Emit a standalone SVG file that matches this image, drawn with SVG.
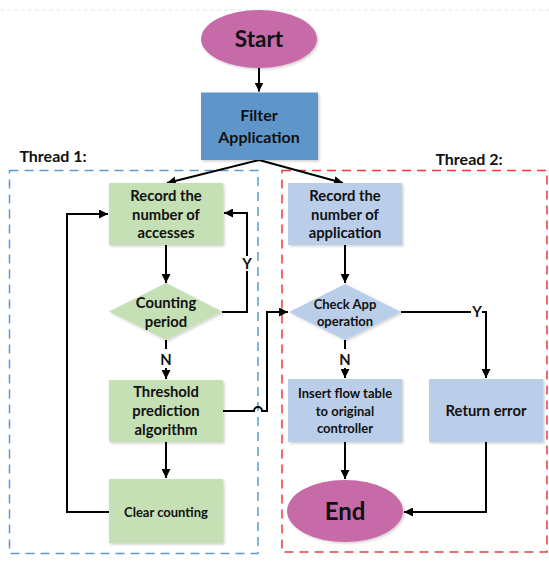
<svg xmlns="http://www.w3.org/2000/svg" width="549" height="561" viewBox="0 0 549 561">
<defs>
<marker id="ah" viewBox="0 0 10 10" refX="10" refY="5" markerWidth="9" markerHeight="9" markerUnits="userSpaceOnUse" orient="auto">
<path d="M0,0 L10,5 L0,10 z" fill="#000"/>
</marker>
<filter id="sh" x="-10%" y="-10%" width="130%" height="130%">
<feDropShadow dx="1.5" dy="1.5" stdDeviation="1" flood-color="#000" flood-opacity="0.18"/>
</filter>
</defs>
<style>
text{font-family:Lato,"Open Sans","Liberation Sans",sans-serif;font-weight:bold;fill:#111;text-anchor:middle}
.t14{font-size:14.8px}
.t12{font-size:13px}
.term{fill:#C66BA8;filter:url(#sh)}
.green{fill:#C6E0B5;filter:url(#sh)}
.blue{fill:#BBCEE9;filter:url(#sh)}
.filt{fill:#5E96CA;filter:url(#sh)}
.conn{fill:none;stroke:#000;stroke-width:2}
.arr{marker-end:url(#ah)}
</style>
<rect width="549" height="561" fill="#fff"/>
<line x1="0" y1="10" x2="549" y2="10" stroke="#e6e6e6" stroke-width="1" stroke-dasharray="4,3"/>
<g id="thread1">
<rect x="9.5" y="170.5" width="248.5" height="383" fill="none" stroke="#5B9BD5" stroke-width="1.5" stroke-dasharray="9,6"/>
<text x="53" y="161.5" style="font-size:16px">Thread 1:</text>
</g>
<g id="thread2">
<rect x="282" y="170.5" width="265" height="381.5" fill="none" stroke="#EE3A3A" stroke-width="1.5" stroke-dasharray="9,6"/>
<text x="469" y="164.5" style="font-size:16px">Thread 2:</text>
</g>
<g id="connectors">
<path class="conn arr" d="M259,68 V91.5"/>
<path class="conn arr" d="M259,160 L167,183"/>
<path class="conn arr" d="M259,160 L343,183"/>
<path class="conn arr" d="M166,245 V283"/>
<path class="conn" d="M222,312 H247 V271"/>
<path class="conn arr" d="M247,256 V213 H224"/>
<path class="conn" d="M166,340 V349"/>
<path class="conn arr" d="M166,368 V379"/>
<path class="conn arr" d="M166,442 V478"/>
<path class="conn arr" d="M109,512 H67 V214 H108"/>
<path class="conn arr" d="M223,411 H254 a4,4 0 0 1 8,0 H267 V312 H288"/>
<path class="conn arr" d="M345,245 V283"/>
<path class="conn" d="M401,312 H471"/>
<path class="conn arr" d="M482,312 H486 V378"/>
<path class="conn" d="M345,340 V349"/>
<path class="conn arr" d="M345,368 V378"/>
<path class="conn arr" d="M345,442 V479"/>
<path class="conn arr" d="M486,442 V512 H404"/>
<text x="247" y="269" class="t14">Y</text>
<text x="166" y="365" class="t14">N</text>
<text x="477" y="317" class="t14">Y</text>
<text x="345" y="365" class="t14">N</text>
</g>
<g id="start">
<ellipse cx="259" cy="39" rx="58" ry="29" class="term"/>
<text x="259" y="47" style="font-size:22.5px">Start</text>
</g>
<g id="filter">
<rect x="201" y="92.5" width="117" height="67.5" class="filt"/>
<text x="259" y="121" style="font-size:16px">Filter</text>
<text x="259" y="142.5" style="font-size:16px">Application</text>
</g>
<g id="record_accesses">
<rect x="109" y="183" width="114" height="62" class="green"/>
<text x="166" y="201" class="t14">Record the</text>
<text x="166" y="220" class="t14">number of</text>
<text x="166" y="238" class="t14">accesses</text>
</g>
<g id="counting_period">
<polygon points="166,283 222,311.5 166,340 109,311.5" class="green"/>
<text x="166" y="308" class="t14">Counting</text>
<text x="166" y="327" class="t14">period</text>
</g>
<g id="threshold">
<rect x="109" y="380" width="114" height="62" class="green"/>
<text x="166" y="397" class="t14">Threshold</text>
<text x="166" y="416" class="t14">prediction</text>
<text x="166" y="435" class="t14">algorithm</text>
</g>
<g id="clear">
<rect x="109" y="479" width="114" height="64" class="green"/>
<text x="166" y="516.5" class="t12">Clear counting</text>
</g>
<g id="record_app">
<rect x="288" y="183" width="114" height="62" class="blue"/>
<text x="345" y="201" class="t14">Record the</text>
<text x="345" y="220" class="t14">number of</text>
<text x="345" y="238" class="t14">application</text>
</g>
<g id="check_app">
<polygon points="345,284 401,312 345,340 289,312" class="blue"/>
<text x="345" y="308.5" class="t12">Check App</text>
<text x="345" y="325.5" class="t12">operation</text>
</g>
<g id="insert">
<rect x="288" y="379" width="114" height="63" class="blue"/>
<text x="345" y="397.5" class="t12">Insert flow table</text>
<text x="345" y="415.5" class="t12">to original</text>
<text x="345" y="433" class="t12">controller</text>
</g>
<g id="return_error">
<rect x="429" y="379" width="114" height="63" class="blue"/>
<text x="486" y="416" class="t14">Return error</text>
</g>
<g id="end">
<ellipse cx="345" cy="511" rx="58" ry="31" class="term"/>
<text x="345" y="519.5" style="font-size:24px">End</text>
</g>
</svg>
